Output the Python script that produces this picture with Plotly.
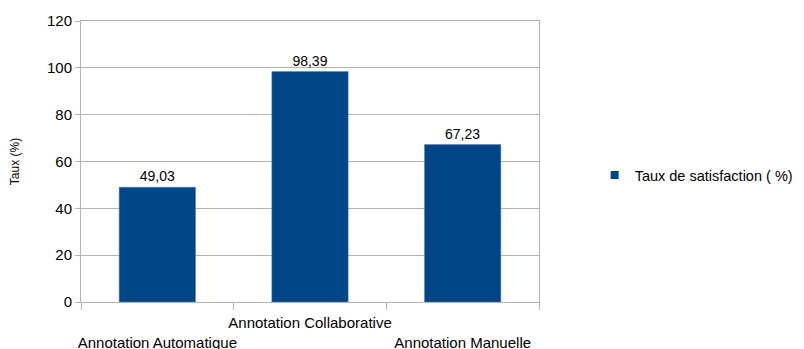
import plotly.graph_objects as go

categories = ['Annotation Automatique', 'Annotation Collaborative', 'Annotation Manuelle']
# les libellés alternent en hauteur comme dans l'original
tick_labels = ['<br>Annotation Automatique', 'Annotation Collaborative', '<br>Annotation Manuelle']
taux = [49.03, 98.39, 67.23]
taux_txt = ['49,03', '98,39', '67,23']
y_ticks = [0, 20, 40, 60, 80, 100, 120]
nom_serie = 'Taux de satisfaction ( %)'

bleu = '#004586'
gris = '#b3b3b3'
police = 'Liberation Sans, Arial, sans-serif'

fig = go.Figure()
fig.add_trace(go.Bar(
    x=categories, y=taux, name=nom_serie, showlegend=False,
    marker=dict(color=bleu, line=dict(color='#5a7fa8', width=0.5)),
    width=0.5, text=taux_txt, textposition='outside',
    textfont=dict(size=14, color='#000000'), cliponaxis=False,
))
# petit carré de légende façon LibreOffice
fig.add_trace(go.Scatter(
    x=[None], y=[None], mode='markers', name=nom_serie,
    marker=dict(symbol='square', size=8, color=bleu),
))

# la page a une marge de 8 px autour du graphique
fig.update_layout(
    width=796, height=341,
    margin=dict(l=73, r=265, t=13, b=47),
    paper_bgcolor='white', plot_bgcolor='white',
    font=dict(family=police, size=15, color='#000000'),
    showlegend=True,
    # légende placée par rapport à la figure pour ne pas rétrécir le graphe
    legend=dict(xref='container', yref='container', x=0.737, y=0.51,
                xanchor='left', yanchor='middle',
                font=dict(size=14.5), itemwidth=30, bgcolor='rgba(0,0,0,0)'),
    bargap=0.5,
)
fig.update_xaxes(
    tickvals=categories, ticktext=tick_labels, tickangle=0, automargin=False,
    tickson='boundaries', ticks='outside', ticklen=7, tickcolor=gris,
    ticklabelstandoff=7,
    showline=True, linecolor=gris, linewidth=1, mirror=True,
    showgrid=False, tickfont=dict(size=15),
)
fig.update_yaxes(
    range=[0, 120], tickvals=y_ticks, automargin=False,
    ticks='outside', ticklen=5, tickcolor=gris,
    showline=True, linecolor=gris, linewidth=1, mirror=True,
    showgrid=True, gridcolor=gris, gridwidth=1, zeroline=False,
    tickfont=dict(size=15),
    title=dict(text='Taux (%)', font=dict(size=12), standoff=24),
)

fig.write_html("out.html")
